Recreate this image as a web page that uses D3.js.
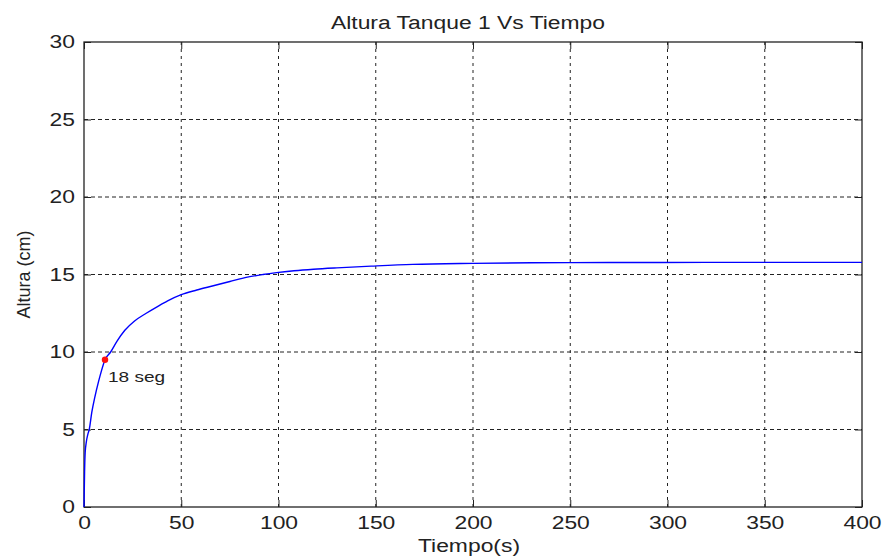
<!DOCTYPE html>
<html>
<head>
<meta charset="utf-8">
<script src="https://cdn.jsdelivr.net/npm/d3@7"></script>
<style>
  body { margin: 0; background: #fff; }
  text { font-family: "Liberation Sans", Arial, sans-serif; fill: #222; }
</style>
</head>
<body>
<div id="graphContainer"></div>
<script>
// values
var tiempo = [0, 0.3, 0.6, 1.2, 2, 2.7, 4, 5.6, 7.5, 9, 10.8, 13.7, 17, 21, 26, 32, 38, 43, 50, 58, 66, 75, 84, 92, 99, 108, 118, 130, 148, 169, 200, 230, 270, 320, 360, 400];
var altura = [0, 2.3, 3.5, 4.2, 4.7, 5.0, 6.1, 7.1, 8.1, 8.8, 9.5, 10.0, 10.7, 11.4, 12.0, 12.5, 12.95, 13.3, 13.7, 14.0, 14.26, 14.55, 14.83, 15.0, 15.12, 15.24, 15.34, 15.43, 15.54, 15.65, 15.72, 15.76, 15.77, 15.78, 15.78, 15.78];
var xTicks = [0, 50, 100, 150, 200, 250, 300, 350, 400];
var yTicks = [0, 5, 10, 15, 20, 25, 30];
var marca = {t: 10.8, h: 9.5, label: "18 seg"};

var width = 886, height = 559,
    margin = {top: 42, left: 84, right: 24, bottom: 52},
    chartWidth = width - margin.left - margin.right,
    chartHeight = height - margin.top - margin.bottom,
    stretch = 1.27; // the original picture is a bit wider than tall

var svg = d3.select("#graphContainer").append("svg")
    .attr("width", width).attr("height", height);

var x = d3.scaleLinear().domain([0, 400]).range([0, chartWidth]);
var y = d3.scaleLinear().domain([0, 30]).range([chartHeight, 0]);

var g = svg.append("g").attr("transform", "translate(" + [margin.left, margin.top] + ")");

// widen text like in the reference
function widen(sel) {
    sel.each(function () {
        var w = this.getComputedTextLength();
        d3.select(this).attr("textLength", w * stretch).attr("lengthAdjust", "spacingAndGlyphs");
    });
}

// grid
g.append("g").selectAll("line").data(xTicks.slice(1, -1)).join("line")
    .attr("x1", x).attr("x2", x).attr("y1", 0).attr("y2", chartHeight)
    .attr("stroke", "#222").attr("stroke-dasharray", "3,4");
g.append("g").selectAll("line").data(yTicks.slice(1, -1)).join("line")
    .attr("y1", y).attr("y2", y).attr("x1", 0).attr("x2", chartWidth)
    .attr("stroke", "#222").attr("stroke-dasharray", "4,3");

// axes with inner ticks
var xAxis = g.append("g").attr("transform", "translate(0," + chartHeight + ")")
    .call(d3.axisBottom(x).tickValues(xTicks).tickSizeInner(-7).tickSizeOuter(0).tickPadding(9));
var xTop = g.append("g").call(d3.axisTop(x).tickValues(xTicks).tickSizeInner(-7).tickSizeOuter(0).tickFormat(""));
var yAxis = g.append("g")
    .call(d3.axisLeft(y).tickValues(yTicks).tickSizeInner(-7).tickSizeOuter(0).tickPadding(9));
var yRight = g.append("g").attr("transform", "translate(" + chartWidth + ",0)")
    .call(d3.axisRight(y).tickValues(yTicks).tickSizeInner(-7).tickSizeOuter(0).tickFormat(""));

[xAxis, xTop, yAxis, yRight].forEach(function (a) {
    a.select(".domain").remove();
    a.selectAll("line").attr("stroke", "#222");
});
xAxis.selectAll("text").attr("font-size", 18).attr("fill", "#222").attr("font-family", "Liberation Sans, Arial, sans-serif").call(widen);
yAxis.selectAll("text").attr("font-size", 18).attr("fill", "#222").attr("font-family", "Liberation Sans, Arial, sans-serif").call(widen);

g.append("rect").attr("width", chartWidth).attr("height", chartHeight)
    .attr("fill", "none").attr("stroke", "#222").attr("stroke-width", 1.3);

// curve
var line = d3.line().x(function (d, i) { return x(tiempo[i]); }).y(function (d) { return y(d); })
    .curve(d3.curveMonotoneX);
g.append("path").datum(altura).attr("d", line)
    .attr("fill", "none").attr("stroke", "#0000ff").attr("stroke-width", 1.4);

// marker
g.append("circle").attr("cx", x(marca.t)).attr("cy", y(marca.h)).attr("r", 3.2).attr("fill", "#ff1010");
g.append("text").attr("x", x(marca.t) + 3).attr("y", y(marca.h) + 22)
    .attr("font-family", "DejaVu Sans, Verdana, sans-serif").attr("font-size", 15)
    .text(marca.label).call(widen);

// titles
svg.append("text").attr("x", margin.left + chartWidth / 2 - 5).attr("y", 29)
    .attr("text-anchor", "middle").attr("font-size", 18)
    .text("Altura Tanque 1 Vs Tiempo").call(widen);
svg.append("text").attr("x", margin.left + chartWidth / 2 - 4).attr("y", 552)
    .attr("text-anchor", "middle").attr("font-size", 18)
    .text("Tiempo(s)").call(widen);
svg.append("text").attr("transform", "translate(30," + (margin.top + chartHeight / 2) + ") rotate(-90)")
    .attr("text-anchor", "middle").attr("font-size", 18)
    .text("Altura (cm)");
</script>
</body>
</html>
